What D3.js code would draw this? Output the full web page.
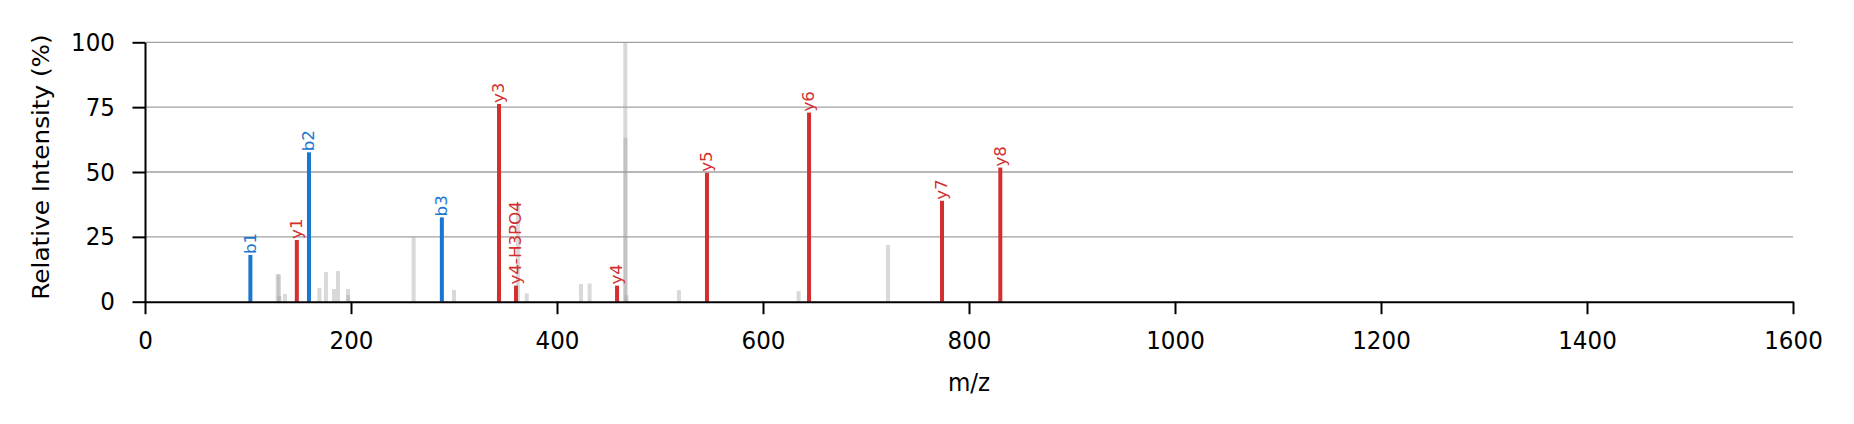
<!DOCTYPE html>
<html>
<head>
<meta charset="utf-8">
<script src="https://cdn.jsdelivr.net/npm/d3@7"></script>
<style>
    body { margin: 0; background: #fff; }
    svg { display: block; font-family: "DejaVu Sans", sans-serif; }
</style>
</head>
<body>
<div id="spectrum"></div>
<script>
// annotated b ions
const bLabels = ['b1', 'b2', 'b3'];
const bMz = [102.3, 159.2, 288.2];
const bIntensity = [18.0, 57.6, 32.5];

// annotated y ions
const yLabels = ['y1', 'y3', 'y4-H3PO4', 'y4', 'y5', 'y6', 'y7', 'y8'];
const yMz = [147.4, 343.7, 360.2, 458.3, 545.6, 644.7, 773.8, 830.4];
const yIntensity = [23.8, 76.2, 6.2, 6.2, 49.7, 72.9, 38.9, 51.7];

// unassigned peaks
const otherMz = [128.8, 130.1, 130.6, 135.9, 169.3, 175.7, 183.5, 187.4, 197.1, 197.3,
    260.8, 300.0, 343.5, 362.0, 370.6, 423.3, 431.7, 466.3, 466.5, 467.5, 518.4, 634.6, 721.4];
const otherIntensity = [10.7, 10.4, 2.2, 3.0, 5.3, 11.4, 4.9, 11.8, 4.9, 2.5,
    24.8, 4.5, 4.0, 37.7, 3.2, 6.8, 7.0, 100, 63.2, 2.5, 4.5, 4.1, 21.9];

const xTicks = [0, 200, 400, 600, 800, 1000, 1200, 1400, 1600];
const yTicks = [0, 25, 50, 75, 100];

const width = 1854;
const height = 424;
const margin = { top: 42.3, bottom: 122.3, left: 145, right: 61 };

const blue = '#1976d2';
const red = '#d32f2f';
// the reference glyphs are a bit narrower than they are tall
const squeeze = 0.92;

function zipPeaks(mz, intensity, labels) {
    return mz.map((m, i) => ({ mz: m, value: intensity[i], label: labels ? labels[i] : null }));
}

function CreateSpectrum() {
    const svg = d3.select('#spectrum')
        .append('svg')
        .attr('width', width)
        .attr('height', height);

    const x = d3.scaleLinear()
        .domain([0, 1600])
        .range([margin.left, width - margin.right]);

    const y = d3.scaleLinear()
        .domain([0, 100])
        .range([height - margin.bottom, margin.top]);

    // grid
    svg.append('g')
        .selectAll('line')
        .data(yTicks.filter(t => t > 0))
        .join('line')
        .attr('x1', x(0))
        .attr('x2', x(1600))
        .attr('y1', d => y(d))
        .attr('y2', d => y(d))
        .attr('stroke', '#a0a0a0')
        .attr('stroke-width', 1.3);

    const barW = 4;

    svg.append('g')
        .attr('fill', '#a0a0a0')
        .attr('fill-opacity', 0.4)
        .selectAll('rect')
        .data(zipPeaks(otherMz, otherIntensity))
        .join('rect')
        .attr('x', d => x(d.mz) - barW / 2)
        .attr('y', d => y(d.value))
        .attr('width', barW)
        .attr('height', d => y(0) - y(d.value));

    function drawIons(peaks, color) {
        const g = svg.append('g');
        g.selectAll('rect')
            .data(peaks)
            .join('rect')
            .attr('x', d => x(d.mz) - barW / 2)
            .attr('y', d => y(d.value))
            .attr('width', barW)
            .attr('height', d => y(0) - y(d.value))
            .attr('fill', color);

        g.selectAll('text')
            .data(peaks)
            .join('text')
            .attr('transform', d => `translate(${x(d.mz)},${y(d.value) - 1}) scale(${squeeze},1) rotate(-90)`)
            .attr('dominant-baseline', 'central')
            .attr('font-size', '16.7px')
            .attr('fill', color)
            .text(d => d.label);
    }

    drawIons(zipPeaks(bMz, bIntensity, bLabels), blue);
    drawIons(zipPeaks(yMz, yIntensity, yLabels), red);

    function xAxis(g) {
        g.attr('transform', `translate(0,${y(0)})`)
            .call(d3.axisBottom(x).tickValues(xTicks).tickFormat(d3.format('d'))
                .tickSize(12.5).tickSizeOuter(0).tickPadding(17.1))
            .attr('font-size', '25px')
            .attr('font-family', '"DejaVu Sans", sans-serif');
        g.selectAll('line, path').attr('stroke', '#000').attr('stroke-width', 2);
        g.selectAll('text').attr('transform', `scale(${squeeze},1)`);
    }

    function yAxis(g) {
        g.attr('transform', `translate(${x(0)},0)`)
            .call(d3.axisLeft(y).tickValues(yTicks)
                .tickSize(12.5).tickSizeOuter(0).tickPadding(17.5))
            .attr('font-size', '25px')
            .attr('font-family', '"DejaVu Sans", sans-serif');
        g.selectAll('line, path').attr('stroke', '#000').attr('stroke-width', 2);
        g.selectAll('text')
            .attr('x', -30 / squeeze)
            .attr('transform', `scale(${squeeze},1)`);
    }

    svg.append('g').call(xAxis);
    svg.append('g').call(yAxis);

    svg.append('text')
        .attr('transform', `translate(${(x(0) + x(1600)) / 2},390.5) scale(${squeeze},1)`)
        .attr('text-anchor', 'middle')
        .attr('font-size', '25px')
        .text('m/z');

    svg.append('text')
        .attr('transform', `translate(41,167) scale(${squeeze},1) rotate(-90)`)
        .attr('text-anchor', 'middle')
        .attr('dominant-baseline', 'central')
        .attr('font-size', '24.7px')
        .text('Relative Intensity (%)');
}

CreateSpectrum();
</script>
</body>
</html>
